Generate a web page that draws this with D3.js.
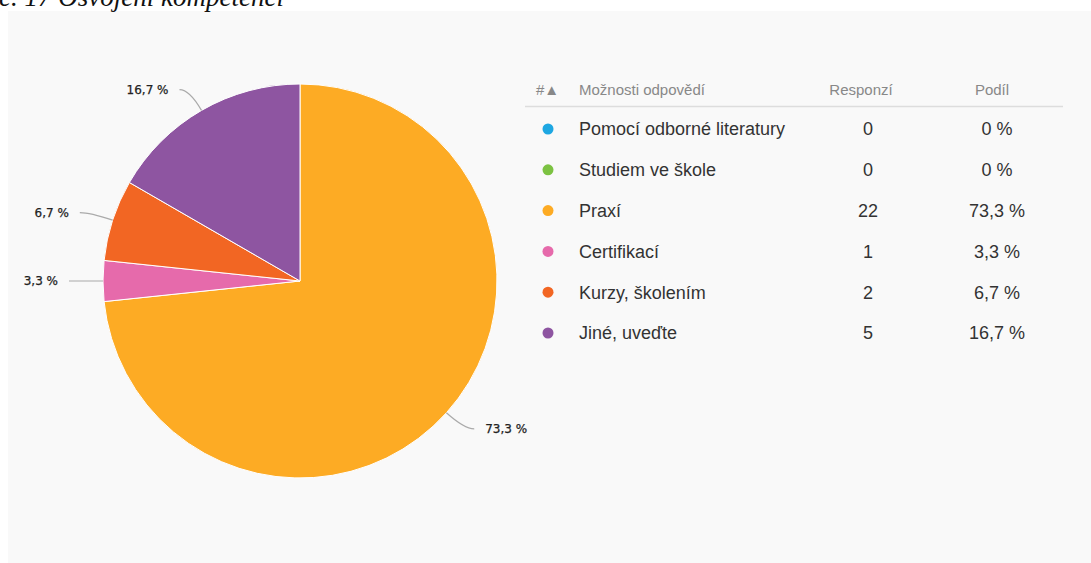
<!DOCTYPE html>
<html>
<head>
<meta charset="utf-8">
<script src="https://cdn.jsdelivr.net/npm/d3@7"></script>
<style>
  body { margin: 0; background: #fff; }
  svg { display: block; }
</style>
</head>
<body>
<div class="viz"></div>
<script>
// data
const options = ["Pomocí odborné literatury", "Studiem ve škole", "Praxí", "Certifikací", "Kurzy, školením", "Jiné, uveďte"];
const responses = [0, 0, 22, 1, 2, 5];
const shares = ["0 %", "0 %", "73,3 %", "3,3 %", "6,7 %", "16,7 %"];
const colors = ["#1ea7e2", "#7cc242", "#fdab24", "#e66aab", "#f26623", "#8e55a1"];
const headers = ["#\u25B2", "Možnosti odpovědí", "Responzí", "Podíl"];

const dimensions = { width: 1091, height: 563 };

const svg = d3.select(".viz")
  .append("svg")
  .attr("width", dimensions.width)
  .attr("height", dimensions.height);

// grey panel
svg.append("rect")
  .attr("x", 8).attr("y", 11)
  .attr("width", dimensions.width - 8)
  .attr("height", dimensions.height - 11)
  .attr("fill", "#f9f9f9");

// caption, cut off at the top like in the scan
svg.append("text")
  .attr("x", -1).attr("y", 6)
  .style("font-family", "'Liberation Serif', serif")
  .style("font-style", "italic")
  .style("font-size", "27px")
  .attr("fill", "#111")
  .text("č. 17 Osvojení kompetencí");

// pie
const cx = 300, cy = 281, radius = 197;
const pie = d3.pie().sort(null).value((d, i) => responses[i]);
const arcs = pie(options);
const arc = d3.arc().innerRadius(0).outerRadius(radius);

const pieG = svg.append("g").attr("transform", `translate(${cx},${cy})`);

pieG.selectAll("path.slice")
  .data(arcs.filter(d => d.value > 0))
  .enter()
  .append("path")
  .attr("class", "slice")
  .attr("d", arc)
  .attr("fill", d => colors[d.index])
  .attr("stroke", "#fff")
  .attr("stroke-width", 1);

// leader lines + labels
const labelled = arcs.filter(d => d.value > 0);
labelled.forEach(d => {
  const a = (d.startAngle + d.endAngle) / 2;
  const sx = Math.sin(a), sy = -Math.cos(a);
  const p0 = [radius * sx, radius * sy];
  const p1 = [(radius + 24) * sx, (radius + 24) * sy];
  const dir = sx >= 0 ? 1 : -1;
  const p2 = [p1[0] + dir * 10, p1[1]];
  const path = d3.path();
  path.moveTo(p0[0], p0[1]);
  path.quadraticCurveTo(p1[0], p1[1], p2[0], p2[1]);
  pieG.append("path")
    .attr("d", path.toString())
    .attr("fill", "none")
    .attr("stroke", "#aaa")
    .attr("stroke-width", 1.2);
  pieG.append("text")
    .attr("x", p2[0] + dir * 11)
    .attr("y", p2[1])
    .attr("dy", "0.35em")
    .attr("text-anchor", dir > 0 ? "start" : "end")
    .style("font-family", "'DejaVu Sans', sans-serif")
    .style("font-size", "12px")
    .attr("fill", "#222")
    .attr("stroke", "#222")
    .attr("stroke-width", 0.25)
    .text(shares[d.index]);
});

// table / legend
const table = svg.append("g").style("font-family", "'Liberation Sans', Arial, sans-serif");
const colX = { dot: 548, label: 579, resp: 868, share: 997 };
const headY = 90;
const headSize = "15px";
const rowSize = "18px";

table.append("text").attr("x", 536).attr("y", headY).attr("dy", "0.35em")
  .style("font-size", headSize).attr("fill", "#888").text(headers[0]);
table.append("text").attr("x", colX.label).attr("y", headY).attr("dy", "0.35em")
  .style("font-size", headSize).attr("fill", "#888").text(headers[1]);
table.append("text").attr("x", 861).attr("y", headY).attr("dy", "0.35em")
  .attr("text-anchor", "middle")
  .style("font-size", headSize).attr("fill", "#888").text(headers[2]);
table.append("text").attr("x", 992).attr("y", headY).attr("dy", "0.35em")
  .attr("text-anchor", "middle")
  .style("font-size", headSize).attr("fill", "#888").text(headers[3]);

table.append("line")
  .attr("x1", 525).attr("x2", 1063)
  .attr("y1", 106.5).attr("y2", 106.5)
  .attr("stroke", "#ddd").attr("stroke-width", 1.5);

const rowY = d3.scalePoint().domain(options).range([129, 333]);

const rows = table.selectAll("g.row")
  .data(options)
  .enter()
  .append("g")
  .attr("class", "row")
  .attr("transform", d => `translate(0,${rowY(d)})`);

rows.append("circle")
  .attr("cx", colX.dot).attr("r", 5.5)
  .attr("fill", (d, i) => colors[i]);

rows.append("text")
  .attr("x", colX.label).attr("dy", "0.35em")
  .style("font-size", rowSize).attr("fill", "#333")
  .text(d => d);

rows.append("text")
  .attr("x", colX.resp).attr("dy", "0.35em")
  .attr("text-anchor", "middle")
  .style("font-size", rowSize).attr("fill", "#333")
  .text((d, i) => responses[i]);

rows.append("text")
  .attr("x", colX.share).attr("dy", "0.35em")
  .attr("text-anchor", "middle")
  .style("font-size", rowSize).attr("fill", "#333")
  .text((d, i) => shares[i]);
</script>
</body>
</html>
